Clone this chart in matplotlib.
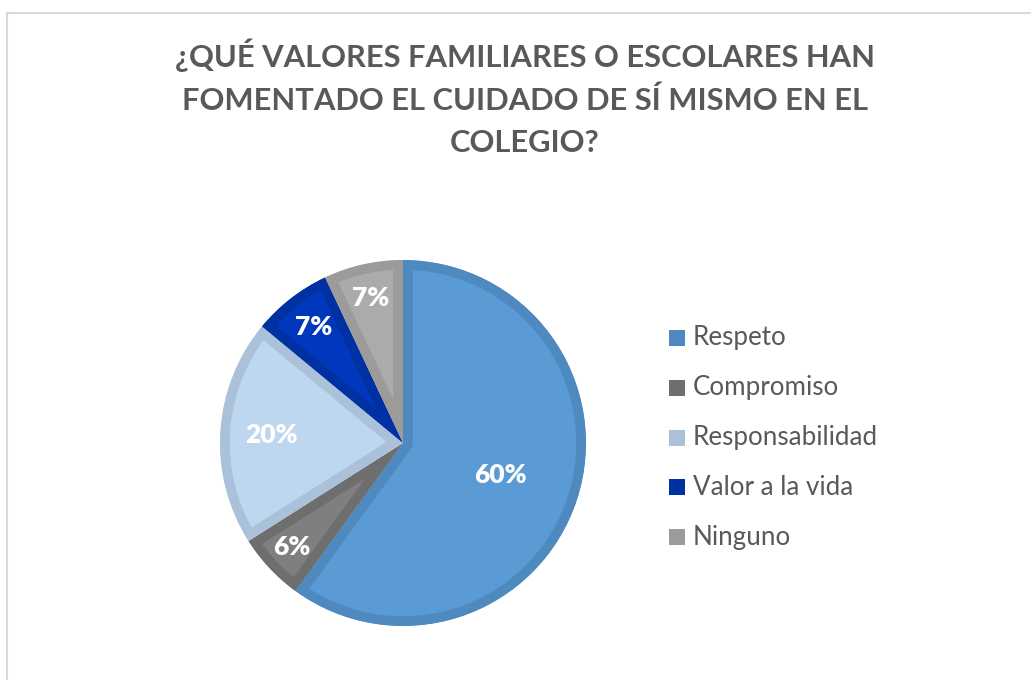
import matplotlib.pyplot as plt
from matplotlib.patches import Rectangle
import numpy as np

# data
labels = ['Respeto', 'Compromiso', 'Responsabilidad', 'Valor a la vida', 'Ninguno']
values = [60, 6, 20, 7, 7]
fills = ['#5B9BD5', '#7F7F7F', '#BDD7EE', '#0038BD', '#ADAAAA']
edges = ['#4E89C0', '#6E6E6E', '#AAC1D9', '#0031A3', '#9D9A9A']
lab_dist = [0.56, 0.83, 0.72, 0.80, 0.81]

plt.rcParams['font.family'] = ['Lato', 'DejaVu Sans']

fig = plt.figure(figsize=[10.31, 6.80], dpi=100, facecolor='white')
W, H = 1031.0, 680.0

# chart frame (light gray)
fig.patches.append(Rectangle((7 / W, -0.1), 1.2, (680 - 13) / H + 0.1,
                             transform=fig.transFigure, fill=False,
                             edgecolor='#D9D9D9', linewidth=1.5))

# title
fig.text(525 / W, 1 - 98 / H,
         '¿QUÉ VALORES FAMILIARES O ESCOLARES HAN\nFOMENTADO EL CUIDADO DE SÍ MISMO EN EL\nCOLEGIO?',
         ha='center', va='center', fontsize=22.2, fontweight='bold',
         color='#595959', linespacing=1.62)

# pie
cx, cy, R = 403, 443, 183
ax = fig.add_axes([(cx - R) / W, (H - cy - R) / H, 2 * R / W, 2 * R / H])
wedges, texts, autotexts = ax.pie(values, colors=fills, startangle=90,
                                  counterclock=False, radius=1.0,
                                  autopct='%1.0f%%', pctdistance=0.75,
                                  textprops=dict(color='white', fontsize=19,
                                                 fontweight='heavy'))
for w, ec in zip(wedges, edges):
    w.set_edgecolor(ec)
    w.set_linewidth(14)
    w.set_clip_on(True)
    w.set_clip_path(w)

# move labels to their own radial distance
for w, t, d in zip(wedges, autotexts, lab_dist):
    ang = np.deg2rad((w.theta1 + w.theta2) / 2)
    t.set_position((d * np.cos(ang), d * np.sin(ang)))

ax.set_xlim(-1, 1)
ax.set_ylim(-1, 1)
ax.axis('off')

# legend
for i, (lab, ec) in enumerate(zip(labels, edges)):
    ypix = 338 + i * 49.8
    fig.patches.append(Rectangle((669 / W, 1 - (ypix + 8) / H), 16 / W, 16 / H,
                                 transform=fig.transFigure, facecolor=ec,
                                 edgecolor='none'))
    fig.text(693 / W, 1 - ypix / H, lab, ha='left', va='center',
             fontsize=18.7, color='#595959')

fig.savefig('out.png', dpi=100, facecolor='white')
